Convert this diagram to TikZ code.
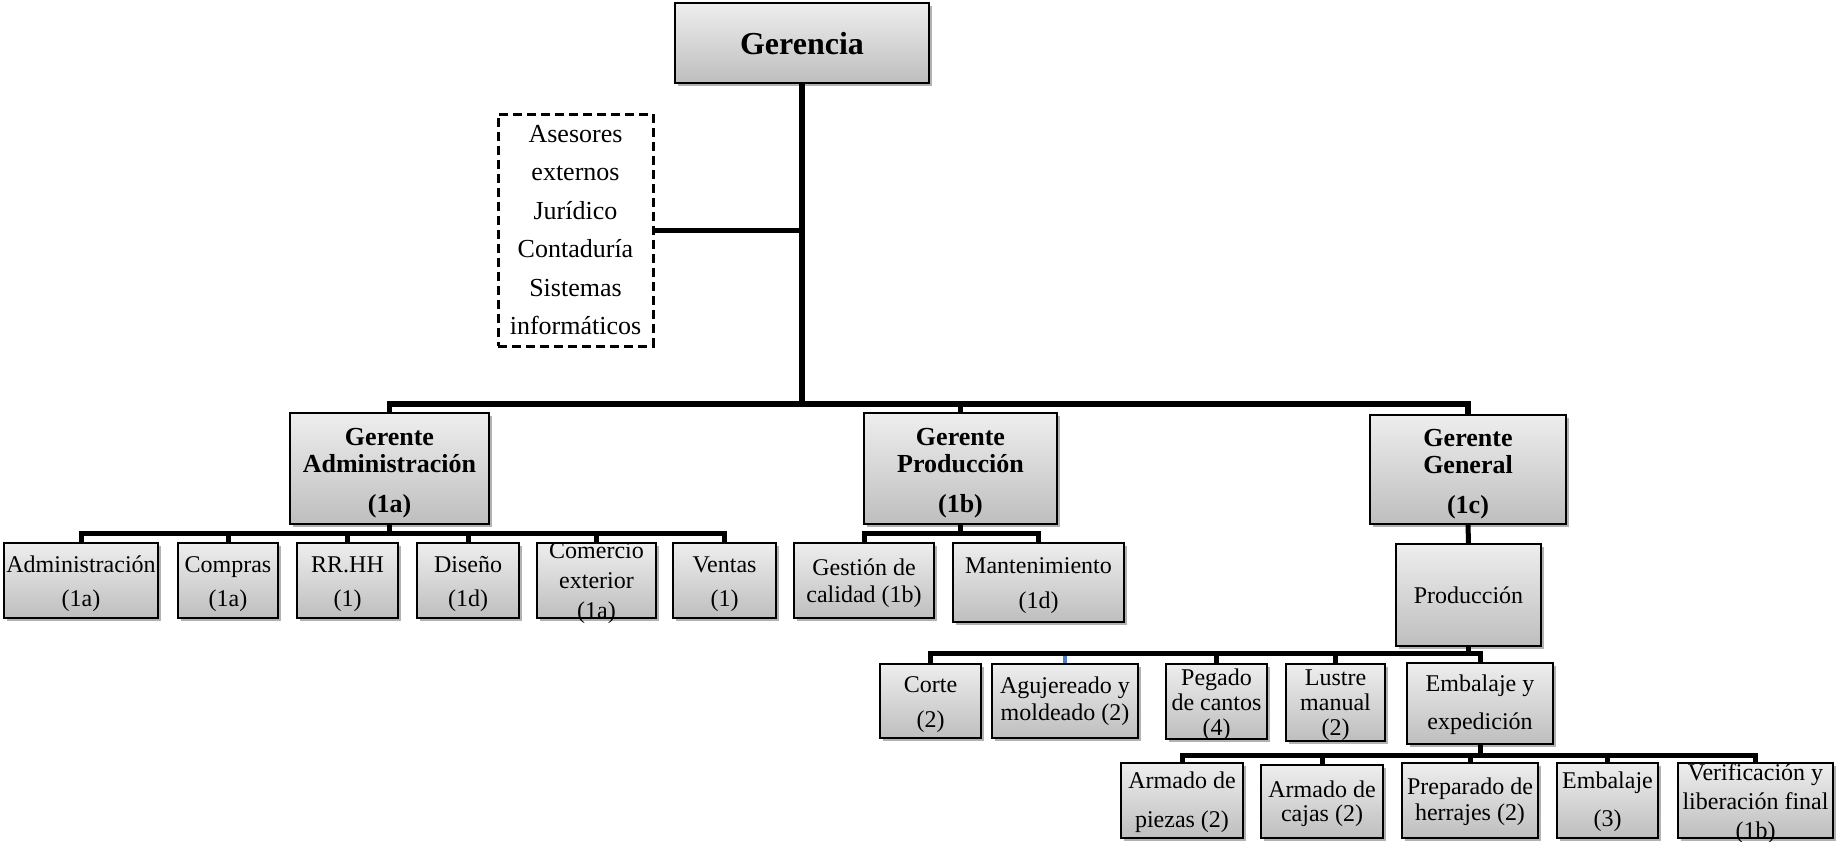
\documentclass[tikz,border=0pt]{standalone}
\usepackage{fontspec}
\setmainfont{Liberation Serif}
\usetikzlibrary{shadows,backgrounds}
\newcommand{\fsz}[2]{\fontsize{#1}{#2}\selectfont}
\definecolor{boxtop}{RGB}{238,238,238}
\definecolor{boxbot}{RGB}{190,190,190}
\definecolor{wordblue}{RGB}{79,129,189}
\tikzset{
  orgbox/.style={draw=black, line width=2pt, top color=boxtop, bottom color=boxbot,
    drop shadow={shadow xshift=3pt, shadow yshift=-3pt, opacity=0.3, fill=black},
    inner sep=0pt, outer sep=0pt},
  btxt/.style={inner sep=0pt, align=center, text=black, font=\fsz{26}{27}\bfseries},
  stxt/.style={inner sep=0pt, align=center, text=black, font=\fsz{24}{#1}},
  conn/.style={line width=5pt, draw=black, line join=miter},
  dashbox/.style={draw=black, line width=3pt, dash pattern=on 9pt off 5pt,
    inner sep=0pt, outer sep=0pt, align=center, fill=white}
}
\begin{document}
\begin{tikzpicture}[x=1pt,y=-1pt]
\useasboundingbox (0,0) rectangle (1840,841);
% level 1
\node[orgbox, minimum width=254pt, minimum height=80pt] (ger) at (802,43) {};
\node[inner sep=0pt, font=\fsz{32}{38}\bfseries, yshift=-1pt] (ger-t) at (ger.center) {Gerencia};
\node[dashbox, minimum width=155pt, minimum height=232pt, font=\fsz{26}{38.5}] (ase) at (575.5,230)
  {Asesores\\externos\\Jurídico\\Contaduría\\Sistemas\\informáticos};
% level 2
\node[orgbox, minimum width=199pt, minimum height=111pt] (ga) at (389.5,468.5) {};
\node[btxt, yshift=-4.5pt] (ga-t) at (ga.center) {Gerente\\Administración\\[13pt](1a)};
\node[orgbox, minimum width=193pt, minimum height=111pt] (gp) at (960.5,468.5) {};
\node[btxt, yshift=-4.5pt] (gp-t) at (gp.center) {Gerente\\Producción\\[13pt](1b)};
\node[orgbox, minimum width=196pt, minimum height=109pt] (gg) at (1468,469.5) {};
\node[btxt, yshift=-4.5pt] (gg-t) at (gg.center) {Gerente\\General\\[13pt](1c)};
% level 3 admin
\node[orgbox, minimum width=154pt, minimum height=75pt] (adm) at (81,580.5) {};
\node[stxt=34, yshift=-3.5pt] (adm-t) at (adm.center) {Administración\\(1a)};
\node[orgbox, minimum width=100pt, minimum height=75pt] (com) at (228,580.5) {};
\node[stxt=34, yshift=-3.5pt] (com-t) at (com.center) {Compras\\(1a)};
\node[orgbox, minimum width=101pt, minimum height=75pt] (rrhh) at (347.5,580.5) {};
\node[stxt=34, yshift=-3.5pt] (rrhh-t) at (rrhh.center) {RR.HH\\(1)};
\node[orgbox, minimum width=102pt, minimum height=75pt] (dis) at (468,580.5) {};
\node[stxt=34, yshift=-3.5pt] (dis-t) at (dis.center) {Diseño\\(1d)};
\node[orgbox, minimum width=119pt, minimum height=75pt] (cext) at (596.5,580.5) {};
\node[stxt=30, yshift=-3pt] (cext-t) at (cext.center) {Comercio\\exterior\\(1a)};
\node[orgbox, minimum width=103pt, minimum height=75pt] (ven) at (724.5,580.5) {};
\node[stxt=34, yshift=-3.5pt] (ven-t) at (ven.center) {Ventas\\(1)};
% level 3 production
\node[orgbox, minimum width=140pt, minimum height=75pt] (gca) at (864,580.5) {};
\node[stxt=27, yshift=-3pt] (gca-t) at (gca.center) {Gestión de\\calidad (1b)};
\node[orgbox, minimum width=171pt, minimum height=79pt] (man) at (1038.5,582.5) {};
\node[stxt=35, yshift=-3.5pt] (man-t) at (man.center) {Mantenimiento\\(1d)};
% level 3 general
\node[orgbox, minimum width=145pt, minimum height=102pt] (pro) at (1468.5,595) {};
\node[stxt=30] (pro-t) at (pro.center) {Producción};
% level 4
\node[orgbox, minimum width=101pt, minimum height=74pt] (cor) at (930.5,701) {};
\node[stxt=35, yshift=-3.5pt] (cor-t) at (cor.center) {Corte\\(2)};
\node[orgbox, minimum width=146pt, minimum height=74pt] (agu) at (1065,701) {};
\node[stxt=27] (agu-t) at (agu.center) {Agujereado y\\moldeado (2)};
\node[orgbox, minimum width=101pt, minimum height=75pt] (peg) at (1216.5,701.5) {};
\node[stxt=25, yshift=-3pt] (peg-t) at (peg.center) {Pegado\\de cantos\\(4)};
\node[orgbox, minimum width=99pt, minimum height=77pt] (lus) at (1335.5,702.5) {};
\node[stxt=25, yshift=-3pt] (lus-t) at (lus.center) {Lustre\\manual\\(2)};
\node[orgbox, minimum width=146pt, minimum height=81pt] (eex) at (1480,703.5) {};
\node[stxt=38.5, yshift=-1.2pt] (eex-t) at (eex.center) {Embalaje y\\expedición};
% level 5
\node[orgbox, minimum width=122pt, minimum height=75pt] (arp) at (1182,800.5) {};
\node[stxt=38.5, yshift=-1.8pt] (arp-t) at (arp.center) {Armado de\\piezas (2)};
\node[orgbox, minimum width=122pt, minimum height=73pt] (arc) at (1322,801.5) {};
\node[stxt=24, yshift=-2.3pt] (arc-t) at (arc.center) {Armado de\\cajas (2)};
\node[orgbox, minimum width=136pt, minimum height=75pt] (pre) at (1470,800.5) {};
\node[stxt=26, yshift=-1.2pt] (pre-t) at (pre.center) {Preparado de\\herrajes (2)};
\node[orgbox, minimum width=101pt, minimum height=75pt] (emb) at (1607.5,800.5) {};
\node[stxt=38.5, yshift=-1.2pt] (emb-t) at (emb.center) {Embalaje\\(3)};
\node[orgbox, minimum width=155pt, minimum height=75pt] (ver) at (1755.5,800.5) {};
\node[stxt=29, yshift=-3pt] (ver-t) at (ver.center) {Verificación y\\liberación final\\(1b)};
% bus levels
\coordinate (b1) at (0,404);
\coordinate (b2) at (0,533);
\coordinate (b3) at (0,653);
\coordinate (b4) at (0,755);
\begin{scope}[on background layer]
  \draw[conn, line width=6pt] (ger.south) -- (ger.south |- b1);
  \draw[conn] (ase.east) -- (ase.east -| ger.south);
  \draw[conn, line width=5.5pt] (ga.north) -- (ga.north |- b1) -- (gg.north |- b1) -- (gg.north);
  \draw[conn] (gp.north) -- (gp.north |- b1);
  % admin
  \draw[conn] (ga.south) -- (ga.south |- b2);
  \draw[conn] (adm.north) -- (adm.north |- b2) -- (ven.north |- b2) -- (ven.north);
  \foreach \n in {com,rrhh,dis,cext} \draw[conn] (\n.north) -- (\n.north |- b2);
  % production
  \draw[conn] (gp.south) -- (gp.south |- b2);
  \draw[conn] (gca.north) -- (gca.north |- b2) -- (man.north |- b2) -- (man.north);
  % general
  \draw[conn] (gg.south) -- (pro.north);
  \draw[conn] (pro.south) -- (pro.south |- b3);
  \draw[wordblue, line width=3.5pt] (agu.north) -- (agu.north |- b3);
  \draw[conn] (cor.north) -- (cor.north |- b3) -- (eex.north |- b3) -- (eex.north);
  \foreach \n in {peg,lus} \draw[conn] (\n.north) -- (\n.north |- b3);
  % embalaje y expedicion
  \draw[conn] (eex.south) -- (eex.south |- b4);
  \draw[conn] (arp.north) -- (arp.north |- b4) -- (ver.north |- b4) -- (ver.north);
  \foreach \n in {arc,pre,emb} \draw[conn] (\n.north) -- (\n.north |- b4);
\end{scope}
\end{tikzpicture}
\end{document}
